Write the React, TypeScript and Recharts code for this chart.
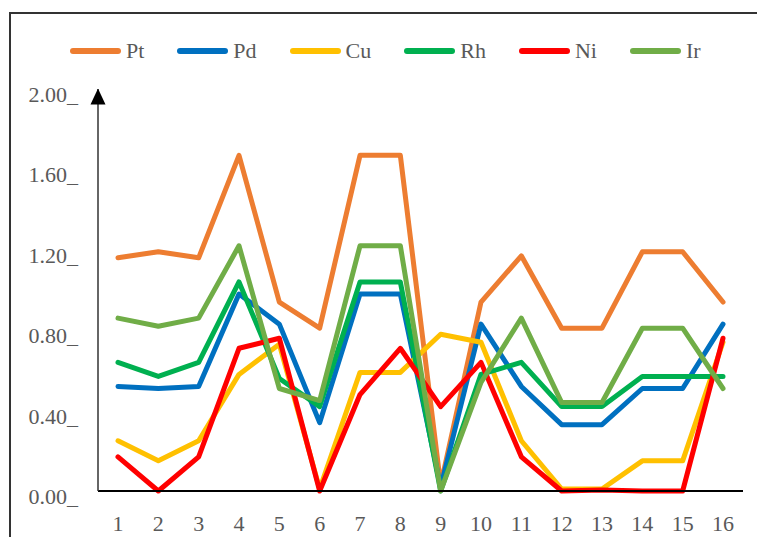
import { LineChart, Line, XAxis, YAxis } from 'recharts'

// ─── Data ────────────────────────────────────────────────────────────────────

const samples = ['1', '2', '3', '4', '5', '6', '7', '8', '9', '10', '11', '12', '13', '14', '15', '16']

const pt = [1.16, 1.19, 1.16, 1.67, 0.94, 0.81, 1.67, 1.67, 0.03, 0.94, 1.17, 0.81, 0.81, 1.19, 1.19, 0.94]
const pd = [0.52, 0.51, 0.52, 0.98, 0.83, 0.34, 0.98, 0.98, 0.02, 0.83, 0.52, 0.33, 0.33, 0.51, 0.51, 0.83]
const cu = [0.25, 0.15, 0.25, 0.58, 0.73, 0.01, 0.59, 0.59, 0.78, 0.74, 0.25, 0.01, 0.01, 0.15, 0.15, 0.74]
const rh = [0.64, 0.57, 0.64, 1.04, 0.56, 0.42, 1.04, 1.04, 0.0, 0.58, 0.64, 0.42, 0.42, 0.57, 0.57, 0.57]
const ni = [0.17, 0.0, 0.17, 0.71, 0.76, 0.0, 0.48, 0.71, 0.42, 0.64, 0.17, 0.0, 0.005, 0.0, 0.0, 0.76]
const ir = [0.86, 0.82, 0.86, 1.22, 0.51, 0.45, 1.22, 1.22, 0.0, 0.54, 0.86, 0.44, 0.44, 0.81, 0.81, 0.51]

const yTicks = [0, 0.4, 0.8, 1.2, 1.6, 2.0]

const series = [
  { key: 'Pt', values: pt, color: '#ED7D31' },
  { key: 'Pd', values: pd, color: '#0070C0' },
  { key: 'Cu', values: cu, color: '#FFC000' },
  { key: 'Rh', values: rh, color: '#00B050' },
  { key: 'Ni', values: ni, color: '#FF0000' },
  { key: 'Ir', values: ir, color: '#70AD47' },
]

const rows = samples.map((s, i) => {
  const row: Record<string, string | number> = { sample: s }
  series.forEach(se => { row[se.key] = se.values[i] })
  return row
})

const FONT = '"Liberation Serif", serif'
const TEXT = '#595959'

// ─── Ticks & legend ──────────────────────────────────────────────────────────

const YTick = ({ x, y, payload }: any) => (
  <text x={x} y={y + 13} textAnchor="end" fontFamily={FONT} fontSize={22} fill={TEXT}>
    {`${Number(payload.value).toFixed(2)}_`}
  </text>
)

const XTick = ({ x, y, payload }: any) => (
  <text x={x} y={y + 40} textAnchor="middle" fontFamily={FONT} fontSize={22} fill={TEXT}>
    {payload.value}
  </text>
)

// legend sits outside the plot so it doesn't push the plot area down
const LegendRow = () => (
  <div style={{
    position: 'absolute', left: 70, top: 39, display: 'flex', alignItems: 'center',
    fontFamily: FONT, fontSize: 22, color: TEXT,
  }}>
    {series.map(s => (
      <div key={s.key} style={{ display: 'flex', alignItems: 'center', marginRight: 33 }}>
        <svg width={51} height={8} style={{ marginRight: 5 }}>
          <line x1={3} y1={4} x2={48} y2={4} stroke={s.color} strokeWidth={6} strokeLinecap="round" />
        </svg>
        <span style={{ lineHeight: '24px' }}>{s.key}</span>
      </div>
    ))}
  </div>
)

// ─── Chart ───────────────────────────────────────────────────────────────────

export default function App() {
  return (
    <div style={{ position: 'absolute', left: 0, top: 0, width: 757, height: 537, overflow: 'hidden', background: '#fff' }}>
      <div style={{
        position: 'absolute', left: 9, top: 12, width: 900, height: 700,
        borderTop: '2px solid #333', borderLeft: '2px solid #333',
      }} />
      <LineChart
        width={757}
        height={537}
        data={rows}
        margin={{ top: 89, right: 14, left: 0, bottom: 0 }}
        style={{ position: 'absolute', left: 0, top: 0 }}
      >
        <defs>
          <marker id="yArrow" viewBox="0 0 16 16" refX={8} refY={0.5} markerWidth={16} markerHeight={16}
            markerUnits="userSpaceOnUse" orient="0">
            <path d="M0.5,16 L8,0 L15.5,16 Z" fill="#000" />
          </marker>
        </defs>
        <XAxis
          dataKey="sample"
          height={46}
          padding={{ left: 20, right: 20 }}
          axisLine={{ stroke: '#000', strokeWidth: 2 }}
          tickLine={false}
          tickSize={0}
          tickMargin={0}
          interval={0}
          tick={<XTick />}
        />
        <YAxis
          domain={[0, 2]}
          ticks={yTicks}
          width={98}
          axisLine={{ stroke: '#333', strokeWidth: 1.5, markerStart: 'url(#yArrow)' }}
          tickLine={false}
          tickSize={0}
          tickMargin={20}
          tick={<YTick />}
        />
        {series.map(s => (
          <Line
            key={s.key}
            type="linear"
            dataKey={s.key}
            stroke={s.color}
            strokeWidth={5}
            strokeLinejoin="round"
            strokeLinecap="round"
            dot={false}
            activeDot={false}
            isAnimationActive={false}
          />
        ))}
      </LineChart>
      <LegendRow />
    </div>
  )
}
